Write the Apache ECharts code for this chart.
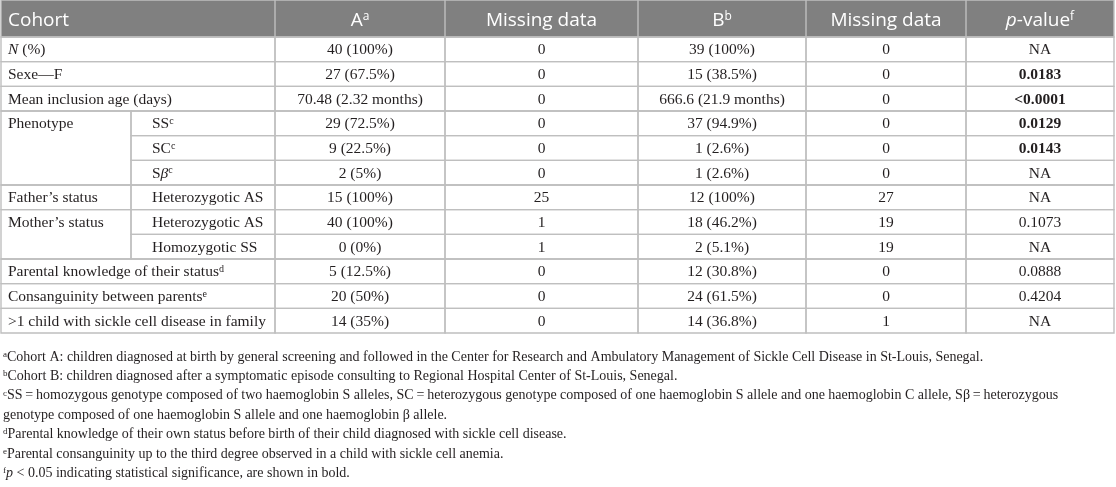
<!DOCTYPE html>
<html>
<head>
<meta charset="utf-8">
<script src="https://cdn.jsdelivr.net/npm/echarts@6/dist/echarts.min.js"></script>
<style>
html, body { margin: 0; padding: 0; background: #fff; }
#table { width: 1116px; height: 487px; }
</style>
</head>
<body>
<div id="table"></div>
<script>
// table content
var headers = ['Cohort', 'A{sup|a}', 'Missing data', 'B{sup|b}', 'Missing data', '{it|p}-value{sup|f}'];
var groups = ['{it|N} (%)', 'Sexe\u2014F', 'Mean inclusion age (days)', 'Phenotype', 'Phenotype', 'Phenotype',
    'Father\u2019s status', 'Mother\u2019s status', 'Mother\u2019s status',
    'Parental knowledge of their status{sup|d}', 'Consanguinity between parents{sup|e}',
    '>1 child with sickle cell disease in family'];
var subgroups = ['', '', '', 'SS{sup|c}', 'SC{sup|c}', 'S{it|\u03b2}{sup|c}',
    'Heterozygotic AS', 'Heterozygotic AS', 'Homozygotic SS', '', '', ''];
var cohortA = ['40 (100%)', '27 (67.5%)', '70.48 (2.32 months)', '29 (72.5%)', '9 (22.5%)', '2 (5%)',
    '15 (100%)', '40 (100%)', '0 (0%)', '5 (12.5%)', '20 (50%)', '14 (35%)'];
var missingA = [0, 0, 0, 0, 0, 0, 25, 1, 1, 0, 0, 0];
var cohortB = ['39 (100%)', '15 (38.5%)', '666.6 (21.9 months)', '37 (94.9%)', '1 (2.6%)', '1 (2.6%)',
    '12 (100%)', '18 (46.2%)', '2 (5.1%)', '12 (30.8%)', '24 (61.5%)', '14 (36.8%)'];
var missingB = [0, 0, 0, 0, 0, 0, 27, 19, 19, 0, 0, 1];
var pValues = ['NA', '0.0183', '<0.0001', '0.0129', '0.0143', 'NA', 'NA', '0.1073', 'NA', '0.0888', '0.4204', 'NA'];
var notes = [
    '{sup|a}Cohort A: children diagnosed at birth by general screening and followed in the Center for Research and Ambulatory Management of Sickle Cell Disease in St-Louis, Senegal.',
    '{sup|b}Cohort B: children diagnosed after a symptomatic episode consulting to Regional Hospital Center of St-Louis, Senegal.',
    '{sup|c}SS\u2009=\u2009homozygous genotype composed of two haemoglobin S alleles, SC\u2009=\u2009heterozygous genotype composed of one haemoglobin S allele and one haemoglobin C allele, S\u03b2\u2009=\u2009heterozygous',
    'genotype composed of one haemoglobin S allele and one haemoglobin \u03b2 allele.',
    '{sup|d}Parental knowledge of their own status before birth of their child diagnosed with sickle cell disease.',
    '{sup|e}Parental consanguinity up to the third degree observed in a child with sickle cell anemia.',
    '{sup|f}{it|p} < 0.05 indicating statistical significance, are shown in bold.'
];

// layout
var colEdges = [1, 131, 275, 445, 638, 806, 966, 1114];
var serif = '"Liberation Serif", "Times New Roman", serif';
var sans = '"Open Sans", "Noto Sans", sans-serif';
var ink = '#231f20';
var rule = '#bfbfbf';
var bodySize = 15.5;

function richFor(size, family, color) {
    return {
        it: { fontFamily: family, fontSize: size, fontStyle: 'italic', fill: color, textFill: color },
        sup: { fontFamily: family, fontSize: Math.round(size * 0.64), fill: color, textFill: color, verticalAlign: 'top' }
    };
}

function isSig(p) {
    return p.charAt(0) === '<' || parseFloat(p) < 0.05;
}

function txt(s, x, y, align, opts) {
    opts = opts || {};
    var size = opts.size || bodySize, family = opts.family || serif, color = opts.color || ink;
    return {
        type: 'text',
        style: {
            text: s, x: x, y: y,
            align: align, textAlign: align,
            verticalAlign: 'middle', textVerticalAlign: 'middle',
            fontFamily: family, fontSize: size,
            fontWeight: opts.weight || 'normal',
            fill: color, textFill: color,
            rich: richFor(size, family, color)
        }
    };
}

function renderHeader(params, api) {
    var yc = api.coord([0, 0])[1];
    var h = api.size([0, 1])[1];
    var top = yc - h / 2;
    var X = function (e) { return api.coord([colEdges[e], 0])[0]; };
    var kids = [];
    kids.push({ type: 'rect', shape: { x: X(0), y: top, width: X(7) - X(0), height: h },
        style: { fill: '#808080', stroke: rule, lineWidth: 1.4 } });
    for (var c = 0; c < headers.length; c++) {
        var a = c === 0 ? 0 : c + 1, b = c + 2;
        if (c > 0) {
            kids.push({ type: 'line', shape: { x1: X(a), y1: top, x2: X(a), y2: top + h },
                style: { stroke: rule, lineWidth: 1.4 } });
        }
        var tx = c === 0 ? X(0) + 7 : (X(a) + X(b)) / 2;
        kids.push(txt(headers[c], tx, yc + 2, c === 0 ? 'left' : 'center',
            { family: sans, size: 19, color: '#ffffff' }));
    }
    return { type: 'group', children: kids };
}

function renderBody(params, api) {
    var i = api.value(1);
    var yc = api.coord([0, i])[1];
    var h = api.size([0, 1])[1];
    var top = yc - h / 2;
    var X = function (e) { return api.coord([colEdges[e], i])[0]; };
    var kids = [];
    function cell(c0, c1, span) {
        kids.push({ type: 'rect', shape: { x: X(c0), y: top, width: X(c1) - X(c0), height: h * span },
            style: { fill: null, stroke: rule, lineWidth: 1.4 } });
    }
    if (i === 0 || groups[i] !== groups[i - 1]) {
        var span = 1;
        while (groups[i + span] === groups[i]) span++;
        cell(0, subgroups[i] ? 1 : 2, span);
        kids.push(txt(groups[i], X(0) + 7, yc + 1, 'left'));
    }
    if (subgroups[i]) {
        cell(1, 2, 1);
        kids.push(txt(subgroups[i], X(1) + 21, yc + 1, 'left'));
    }
    var vals = [cohortA[i], missingA[i], cohortB[i], missingB[i], pValues[i]];
    for (var k = 0; k < vals.length; k++) {
        cell(k + 2, k + 3, 1);
        var bold = k === 4 && isSig(pValues[i]);
        kids.push(txt(String(vals[k]), (X(k + 2) + X(k + 3)) / 2, yc + 1, 'center',
            { weight: bold ? 'bold' : 'normal' }));
    }
    return { type: 'group', children: kids };
}

var noteTop = 357, noteStep = 19.4;
var noteGraphics = notes.map(function (n, j) {
    return {
        type: 'text', x: 3, y: noteTop + j * noteStep, silent: true,
        style: {
            text: n, align: 'left', textAlign: 'left', verticalAlign: 'middle', textVerticalAlign: 'middle',
            fontFamily: serif, fontSize: 14, fill: ink, textFill: ink,
            rich: richFor(14, serif, ink)
        }
    };
});

var rowIds = groups.map(function (g, i) { return String(i); });

var option = {
    animation: false,
    grid: [
        { left: 0, right: 0, top: 0, height: 37 },
        { left: 0, right: 0, top: 37, height: 296 }
    ],
    xAxis: [
        { gridIndex: 0, type: 'value', min: 0, max: 1116, show: false },
        { gridIndex: 1, type: 'value', min: 0, max: 1116, show: false }
    ],
    yAxis: [
        { gridIndex: 0, type: 'category', data: ['header'], show: false },
        { gridIndex: 1, type: 'category', data: rowIds, inverse: true, show: false }
    ],
    graphic: noteGraphics,
    series: [
        { type: 'custom', xAxisIndex: 0, yAxisIndex: 0, silent: true, clip: false,
          data: [[0, 0]], renderItem: renderHeader },
        { type: 'custom', xAxisIndex: 1, yAxisIndex: 1, silent: true, clip: false,
          data: rowIds.map(function (r, i) { return [0, i]; }), renderItem: renderBody }
    ]
};

var myChart = echarts.init(document.getElementById('table'));
myChart.setOption(option, true);
</script>
</body>
</html>
